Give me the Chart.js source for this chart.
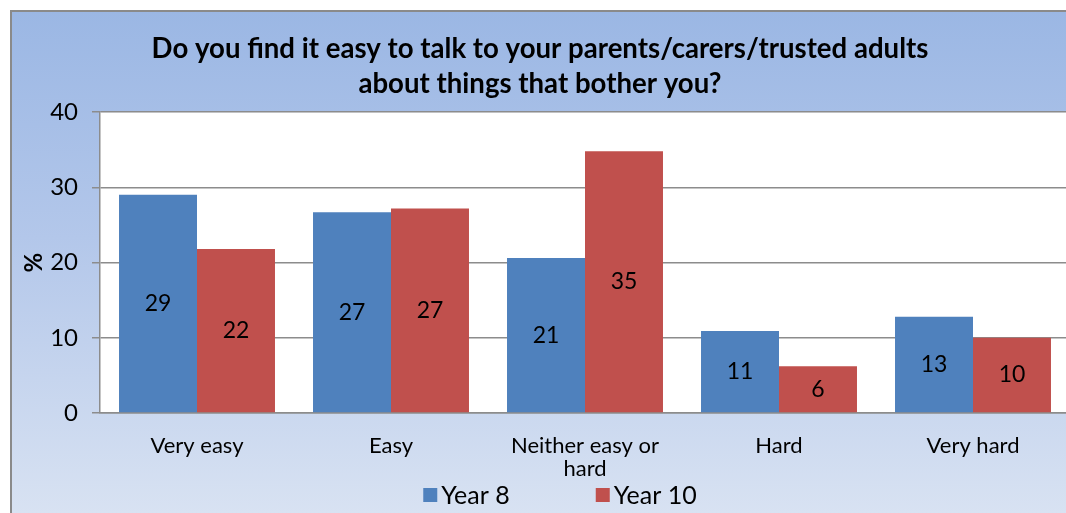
<!DOCTYPE html>
<html>
<head>
<meta charset="utf-8">
<script src="https://cdn.jsdelivr.net/npm/chart.js@4.4.1/dist/chart.umd.min.js"></script>
<style>
  html, body { margin: 0; padding: 0; background: #ffffff; overflow: hidden; width: 1066px; height: 513px; }
  #wrap {
    position: absolute; left: 10px; top: 10px; width: 1070px; height: 503px;
    border-left: 2px solid #8a8a8a; border-top: 2px solid #8a8a8a;
    background: linear-gradient(to bottom, #9bb7e4 0%, #b3c7ea 45%, #d8e2f2 100%);
    box-sizing: border-box;
  }
  #wrap canvas { position: absolute; left: -2px; top: -2px; }
</style>
</head>
<body>
<div id="wrap"><canvas id="c" width="1070" height="503"></canvas></div>
<script>
const titleLines = ['Do you find it easy to talk to your parents/carers/trusted adults', 'about things that bother you?'];
const categories = ['Very easy', 'Easy', ['Neither easy or', 'hard'], 'Hard', 'Very hard'];
const year8 = [29.0, 26.7, 20.6, 10.9, 12.8];
const year10 = [21.8, 27.2, 34.8, 6.2, 10.0];
const seriesNames = ['Year 8', 'Year 10'];
const yTicks = [0, 10, 20, 30, 40];
const yAxisTitle = '%';

const FONT = 'Lato, "Open Sans", sans-serif';
const BLUE = '#4f81bd';
const RED = '#c0504d';
const GRID = '#8c8c8c';

const plotBg = {
  id: 'plotBg',
  beforeDraw(chart) {
    const a = chart.chartArea, ctx = chart.ctx;
    ctx.save();
    ctx.fillStyle = '#ffffff';
    ctx.fillRect(a.left, a.top, a.right - a.left, a.bottom - a.top);
    ctx.restore();
  }
};

const valueLabels = {
  id: 'valueLabels',
  afterDatasetsDraw(chart) {
    const ctx = chart.ctx;
    ctx.save();
    ctx.font = '23px ' + FONT;
    ctx.fillStyle = '#000000';
    ctx.textAlign = 'center';
    ctx.textBaseline = 'middle';
    chart.data.datasets.forEach((ds, di) => {
      const meta = chart.getDatasetMeta(di);
      meta.data.forEach((el, i) => {
        const v = ds.data[i];
        ctx.fillText(String(Math.round(v)), el.x, (el.y + el.base) / 2);
      });
    });
    ctx.restore();
  }
};

const customLegend = {
  id: 'customLegend',
  afterDraw(chart) {
    const ctx = chart.ctx;
    ctx.save();
    ctx.font = '25px ' + FONT;
    ctx.textBaseline = 'middle';
    ctx.textAlign = 'left';
    const box = 14, gap = 4, itemGap = 86;
    const items = chart.data.datasets.map(ds => ({ text: ds.label, color: ds.backgroundColor }));
    const widths = items.map(it => box + gap + ctx.measureText(it.text).width);
    const total = widths.reduce((s, w) => s + w, 0) + itemGap * (items.length - 1);
    let x = chart.width / 2 + 15 - total / 2;
    const y = 485;
    items.forEach((it, i) => {
      ctx.fillStyle = it.color;
      ctx.fillRect(x, y - box / 2, box, box);
      ctx.fillStyle = '#000000';
      ctx.fillText(it.text, x + box + gap, y + 1);
      x += widths[i] + itemGap;
    });
    ctx.restore();
  }
};

new Chart(document.getElementById('c'), {
  type: 'bar',
  data: {
    labels: categories,
    datasets: [
      { label: seriesNames[0], data: year8, backgroundColor: BLUE, borderWidth: 0 },
      { label: seriesNames[1], data: year10, backgroundColor: RED, borderWidth: 0 }
    ]
  },
  options: {
    responsive: false,
    animation: false,
    devicePixelRatio: 1,
    layout: { padding: { top: 0, left: 0, right: 10, bottom: 30 } },
    datasets: { bar: { categoryPercentage: 0.804, barPercentage: 1.0 } },
    plugins: {
      legend: { display: false },
      tooltip: { enabled: false },
      title: {
        display: true,
        text: titleLines,
        color: '#000000',
        font: { family: FONT, size: 27.6, weight: 'bold', lineHeight: 1.27 },
        padding: { top: 22, bottom: 10 }
      }
    },
    scales: {
      x: {
        grid: { display: false, drawTicks: false },
        border: { display: true, color: GRID, width: 1.5 },
        ticks: { color: '#000000', font: { family: FONT, size: 22, lineHeight: 1.05 }, padding: 21, maxRotation: 0, autoSkip: false },
        afterFit(scale) { scale.height = 70; }
      },
      y: {
        min: 0, max: 40,
        afterBuildTicks(scale) { scale.ticks = yTicks.map(v => ({ value: v })); },
        grid: { color: GRID, lineWidth: 1.5, drawTicks: true, tickLength: 8, tickColor: GRID },
        border: { display: true, color: GRID, width: 1.5 },
        ticks: { color: '#000000', font: { family: FONT, size: 24 }, padding: 14 },
        title: { display: true, text: yAxisTitle, color: '#000000', font: { family: FONT, size: 24, weight: 'bold' }, padding: { top: 10, bottom: 0 } },
        afterFit(scale) { scale.width = 90; }
      }
    }
  },
  plugins: [plotBg, valueLabels, customLegend]
});
</script>
</body>
</html>
